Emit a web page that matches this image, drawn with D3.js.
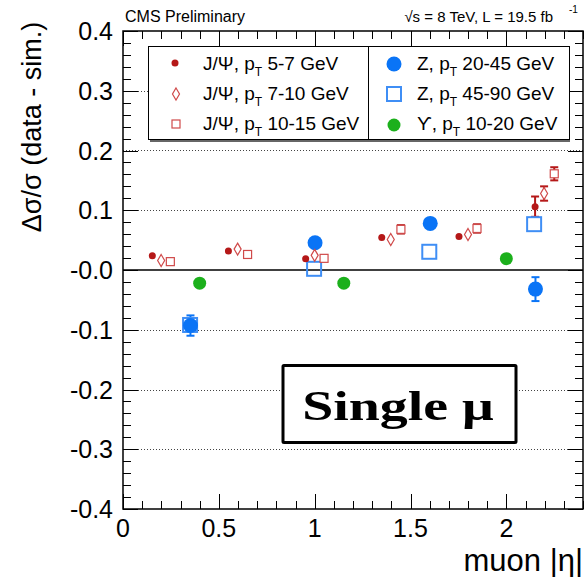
<!doctype html>
<html>
<head>
<meta charset="utf-8">
<title>Single muon data/sim</title>
<style>
  body { margin: 0; background: #fff; }
  svg { display: block; font-family: "Liberation Sans", Arial, sans-serif; }
  .grid { stroke: #444; stroke-width: 1; stroke-dasharray: 1 2; }
</style>
</head>
<body>
<div id="chart"></div>
<script src="https://cdn.jsdelivr.net/npm/d3@7"></script>
<script>
// values (0 error = bar hidden behind the marker)
var jpsi57X = [0.153, 0.55, 0.953, 1.35, 1.753, 2.15];
var jpsi57Y = [0.024, 0.032, 0.019, 0.0545, 0.056, 0.106];
var jpsi57E = [0, 0, 0, 0, 0, 0.017];

var jpsi710X = [0.199, 0.598, 1.0, 1.397, 1.80, 2.197];
var jpsi710Y = [0.016, 0.035, 0.0245, 0.051, 0.0595, 0.128];
var jpsi710E = [0, 0, 0, 0, 0, 0.012];

var jpsi1015X = [0.247, 0.65, 1.049, 1.45, 1.847, 2.25];
var jpsi1015Y = [0.014, 0.026, 0.0195, 0.068, 0.0695, 0.161];
var jpsi1015E = [0, 0, 0, 0.007, 0.007, 0.011];

var z2045X = [0.352, 1.002, 1.603, 2.152];
var z2045Y = [-0.093, 0.0455, 0.078, -0.032];
var z2045E = [0.017, 0, 0, 0.02];

var z4590X = [0.35, 0.997, 1.598, 2.145];
var z4590Y = [-0.092, 0.002, 0.0305, 0.0767];

var upsX = [0.40, 1.152, 2.0];
var upsY = [-0.022, -0.022, 0.019];

var yTicks = [0.4, 0.3, 0.2, 0.1, 0.0, -0.1, -0.2, -0.3, -0.4];
var yTickLabels = ["0.4", "0.3", "0.2", "0.1", "-0.0", "-0.1", "-0.2", "-0.3", "-0.4"];
var xTicks = [0, 0.5, 1, 1.5, 2];
var xTickLabels = ["0", "0.5", "1", "1.5", "2"];
var gridLines = [0.3, 0.2, 0.1, -0.1, -0.2, -0.3];

(function() {
  var width = 586, height = 577;
  var mLeft = 123, mRight = 583, mTop = 31, mBottom = 509;

  var x = d3.scaleLinear().domain([0, 2.4]).range([mLeft, mRight]);
  var y = d3.scaleLinear().domain([-0.4, 0.4]).range([mBottom, mTop]);

  var red = "#b51818", lightRed = "#d04a4a", blue = "#0a74f6", lightBlue = "#3f8ef5", green = "#1cb01c";

  var svg = d3.select("#chart").append("svg")
    .attr("width", width).attr("height", height);

  // grid
  svg.append("g").selectAll("line").data(gridLines).enter().append("line")
    .attr("class", "grid")
    .attr("x1", mLeft).attr("x2", mRight)
    .attr("y1", function(d) { return Math.round(y(d)) + 0.5; })
    .attr("y2", function(d) { return Math.round(y(d)) + 0.5; });

  svg.append("line")
    .attr("x1", mLeft).attr("x2", mRight)
    .attr("y1", y(0)).attr("y2", y(0))
    .attr("stroke", "#000").attr("stroke-width", 1.5);

  // axes with inward ticks
  var yMinor = d3.range(-0.4, 0.4001, 0.02);
  var xMinor = d3.range(0, 2.4001, 0.1);
  var ticks = svg.append("g").attr("stroke", "#000").attr("stroke-width", 1);
  yMinor.forEach(function(v) {
    var major = Math.abs(Math.round(v * 10) - v * 10) < 1e-6;
    var len = major ? 15 : 8;
    var yy = Math.round(y(v)) + 0.5;
    ticks.append("line").attr("x1", mLeft).attr("x2", mLeft + len).attr("y1", yy).attr("y2", yy);
    ticks.append("line").attr("x1", mRight - len).attr("x2", mRight).attr("y1", yy).attr("y2", yy);
  });
  xMinor.forEach(function(v) {
    var major = Math.abs(Math.round(v * 2) - v * 2) < 1e-6;
    var len = major ? 15 : 8;
    var xx = Math.round(x(v)) + 0.5;
    ticks.append("line").attr("x1", xx).attr("x2", xx).attr("y1", mBottom).attr("y2", mBottom - len);
    ticks.append("line").attr("x1", xx).attr("x2", xx).attr("y1", mTop).attr("y2", mTop + len);
  });

  svg.append("rect")
    .attr("x", mLeft).attr("y", mTop)
    .attr("width", mRight - mLeft).attr("height", mBottom - mTop)
    .attr("fill", "none").attr("stroke", "#000").attr("stroke-width", 1.5);

  // tick labels
  svg.append("g").selectAll("text").data(yTicks).enter().append("text")
    .attr("x", 113).attr("y", function(d) { return y(d) + 9; })
    .attr("text-anchor", "end").attr("font-size", 25)
    .text(function(d, i) { return yTickLabels[i]; });

  svg.append("g").selectAll("text").data(xTicks).enter().append("text")
    .attr("x", function(d) { return x(d); }).attr("y", 537)
    .attr("text-anchor", "middle").attr("font-size", 25)
    .text(function(d, i) { return xTickLabels[i]; });

  // axis titles
  svg.append("text")
    .attr("transform", "translate(41,127) rotate(-90)")
    .attr("text-anchor", "middle").attr("font-size", 27)
    .text("Δσ/σ (data - sim.)");

  svg.append("text")
    .attr("x", 583).attr("y", 571)
    .attr("text-anchor", "end").attr("font-size", 31)
    .text("muon |η|");

  // header
  svg.append("text").attr("x", 125).attr("y", 22).attr("font-size", 16).text("CMS Preliminary");
  svg.append("text").attr("x", 553).attr("y", 22).attr("font-size", 15).attr("text-anchor", "end")
    .text("√s = 8 TeV, L = 19.5 fb");
  svg.append("text").attr("x", 569).attr("y", 13).attr("font-size", 10).text("-1");

  // error bars helper
  function errBars(xs, ys, es, color, capW) {
    var g = svg.append("g").attr("stroke", color).attr("stroke-width", 2);
    xs.forEach(function(xv, i) {
      if (!es[i]) return;
      var cx = x(xv), y1 = y(ys[i] + es[i]), y2 = y(ys[i] - es[i]);
      g.append("line").attr("x1", cx).attr("x2", cx).attr("y1", y1).attr("y2", y2);
      g.append("line").attr("x1", cx - capW).attr("x2", cx + capW).attr("y1", y1).attr("y2", y1);
      g.append("line").attr("x1", cx - capW).attr("x2", cx + capW).attr("y1", y2).attr("y2", y2);
    });
  }

  function diamondPath(cx, cy) {
    return "M" + cx + "," + (cy - 6) + "L" + (cx + 3.5) + "," + cy + "L" + cx + "," + (cy + 6) + "L" + (cx - 3.5) + "," + cy + "Z";
  }

  errBars(jpsi57X, jpsi57Y, jpsi57E, red, 4);
  errBars(jpsi710X, jpsi710Y, jpsi710E, red, 4);
  errBars(jpsi1015X, jpsi1015Y, jpsi1015E, red, 4);
  errBars(z2045X, z2045Y, z2045E, blue, 4);

  // Z 45-90 open squares
  svg.append("g").selectAll("rect").data(z4590X).enter().append("rect")
    .attr("x", function(d) { return x(d) - 7; })
    .attr("y", function(d, i) { return y(z4590Y[i]) - 7; })
    .attr("width", 14).attr("height", 14)
    .attr("fill", "none").attr("stroke", lightBlue).attr("stroke-width", 2);

  // Z 20-45 filled circles
  svg.append("g").selectAll("circle").data(z2045X).enter().append("circle")
    .attr("cx", function(d) { return x(d); })
    .attr("cy", function(d, i) { return y(z2045Y[i]); })
    .attr("r", 7.5).attr("fill", blue);

  // Upsilon
  svg.append("g").selectAll("circle").data(upsX).enter().append("circle")
    .attr("cx", function(d) { return x(d); })
    .attr("cy", function(d, i) { return y(upsY[i]); })
    .attr("r", 6.5).attr("fill", green);

  // J/Psi
  svg.append("g").selectAll("circle").data(jpsi57X).enter().append("circle")
    .attr("cx", function(d) { return x(d); })
    .attr("cy", function(d, i) { return y(jpsi57Y[i]); })
    .attr("r", 3.5).attr("fill", red);

  svg.append("g").selectAll("path").data(jpsi710X).enter().append("path")
    .attr("d", function(d, i) { return diamondPath(x(d), y(jpsi710Y[i])); })
    .attr("fill", "#fff").attr("stroke", lightRed).attr("stroke-width", 1.2);

  svg.append("g").selectAll("rect").data(jpsi1015X).enter().append("rect")
    .attr("x", function(d) { return x(d) - 4; })
    .attr("y", function(d, i) { return y(jpsi1015Y[i]) - 4; })
    .attr("width", 8).attr("height", 8)
    .attr("fill", "#fff").attr("stroke", lightRed).attr("stroke-width", 1.2);

  // legend
  var lg = svg.append("g");
  lg.append("rect").attr("x", 148.5).attr("y", 46.5).attr("width", 421).attr("height", 93)
    .attr("fill", "#fff").attr("stroke", "#000").attr("stroke-width", 1);
  lg.append("line").attr("x1", 150).attr("x2", 570).attr("y1", 141).attr("y2", 141)
    .attr("stroke", "#666").attr("stroke-width", 2);
  lg.append("line").attr("x1", 368.5).attr("x2", 368.5).attr("y1", 46.5).attr("y2", 139.5)
    .attr("stroke", "#000").attr("stroke-width", 1);

  var rowY = [63, 93, 123];
  var leftNames = ["J/Ψ, p", "J/Ψ, p", "J/Ψ, p"];
  var leftRanges = [" 5-7 GeV", " 7-10 GeV", " 10-15 GeV"];
  var rightNames = ["Z, p", "Z, p", "ϒ, p"];
  var rightRanges = [" 20-45 GeV", " 45-90 GeV", " 10-20 GeV"];

  function legendText(tx, ty, name, range) {
    var t = lg.append("text").attr("x", tx).attr("y", ty + 7).attr("font-size", 19);
    t.append("tspan").text(name);
    t.append("tspan").attr("font-size", 12).attr("dy", 6).text("T");
    t.append("tspan").attr("dy", -6).text(range);
  }
  rowY.forEach(function(ry, i) {
    legendText(203, ry, leftNames[i], leftRanges[i]);
    legendText(417, ry, rightNames[i], rightRanges[i]);
  });

  lg.append("circle").attr("cx", 175).attr("cy", rowY[0]).attr("r", 3.5).attr("fill", red);
  lg.append("path").attr("d", diamondPath(176, rowY[1] + 1)).attr("fill", "#fff").attr("stroke", lightRed).attr("stroke-width", 1.2);
  lg.append("rect").attr("x", 172).attr("y", rowY[2] - 3).attr("width", 8).attr("height", 8)
    .attr("fill", "#fff").attr("stroke", lightRed).attr("stroke-width", 1.2);
  lg.append("circle").attr("cx", 394).attr("cy", rowY[0] + 1).attr("r", 7.5).attr("fill", blue);
  lg.append("rect").attr("x", 387).attr("y", rowY[1] - 6).attr("width", 14).attr("height", 14)
    .attr("fill", "none").attr("stroke", lightBlue).attr("stroke-width", 2);
  lg.append("circle").attr("cx", 394).attr("cy", rowY[2] + 2).attr("r", 6.5).attr("fill", green);

  // label box
  svg.append("rect").attr("x", 283).attr("y", 365.5).attr("width", 233).attr("height", 77)
    .attr("fill", "#fff").attr("stroke", "#000").attr("stroke-width", 3).attr("rx", 1);
  svg.append("text")
    .attr("transform", "translate(398,420) scale(1.3,1)")
    .attr("text-anchor", "middle").attr("font-family", "'Liberation Serif', 'Times New Roman', serif")
    .attr("font-weight", "bold").attr("font-size", 43)
    .text("Single μ");
})();
</script>
</body>
</html>
